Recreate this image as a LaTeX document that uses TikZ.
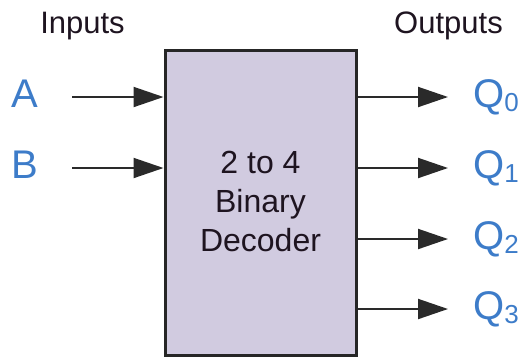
\documentclass[tikz,border=0pt]{standalone}
\usepackage{fontspec}
\setmainfont{Liberation Sans}
\usetikzlibrary{arrows.meta}
\definecolor{boxfill}{HTML}{D1CBE0}
\definecolor{lblue}{HTML}{3D7CC9}
\definecolor{txt}{HTML}{1E1420}
\definecolor{wire}{HTML}{2A2A2A}
\begin{document}
\begin{tikzpicture}[x=1pt,y=-1pt,
  head/.style={font=\fontsize{31}{31}\selectfont, text=txt, inner sep=0pt, anchor=base},
  sig/.style={font=\fontsize{40}{40}\selectfont, text=lblue, inner sep=0pt},
  wirearrow/.style={draw=wire, line width=2pt, -{Triangle[length=30pt,width=20pt]}},
  decbox/.style={draw=black!85, line width=3pt, fill=boxfill, minimum width=191pt, minimum height=305pt, inner sep=0pt}]
\useasboundingbox (0,0) rectangle (526,360);
\node[head] (inl) at (82.5,33) {Inputs};
\node[head] (outl) at (448.5,33) {Outputs};
\node[decbox] (box) at (260.5,202.5) {};
\node[font=\fontsize{32}{39}\selectfont, text=txt, align=center, inner sep=0pt, anchor=center] (btxt) at (260.5,201) {2 to 4\\Binary\\Decoder};
\node[sig, anchor=base] (A) at (25,107) {A};
\node[sig, anchor=base] (B) at (25,178) {B};
\coordinate (as) at (72,97);
\coordinate (bs) at (72,168);
\draw[wirearrow] (as) -- (as -| box.west);
\draw[wirearrow] (bs) -- (bs -| box.west);
\foreach \i/\y in {0/97,1/168,2/239,3/309}{
  \coordinate (e\i) at (448,\y);
  \draw[wirearrow] (e\i -| box.east) -- (e\i);
  \node[sig, anchor=base west] (q\i) at (473,\y+10) {Q\raisebox{-4pt}{\fontsize{26}{26}\selectfont \i}};
}
\end{tikzpicture}
\end{document}
